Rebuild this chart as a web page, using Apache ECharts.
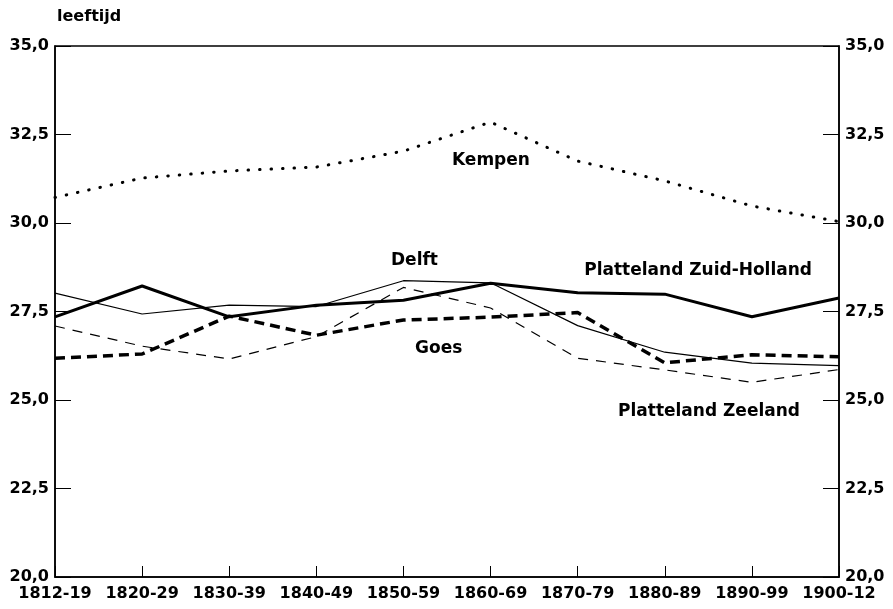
<!DOCTYPE html>
<html><head><meta charset="utf-8">
<script src="https://cdn.jsdelivr.net/npm/echarts@6/dist/echarts.min.js"></script>
<style>html,body{margin:0;padding:0;background:#fff}#c{width:893px;height:609px}</style>
</head><body><div id="c"></div>
<script>
const categories = ['1812-19','1820-29','1830-39','1840-49','1850-59','1860-69','1870-79','1880-89','1890-99','1900-12'];
const kempen = [30.72, 31.27, 31.47, 31.58, 32.03, 32.85, 31.75, 31.19, 30.48, 30.04];
const zuidHolland = [27.35, 28.22, 27.35, 27.68, 27.82, 28.3, 28.03, 27.99, 27.35, 27.88];
const delft = [28.02, 27.43, 27.68, 27.64, 28.37, 28.31, 27.1, 26.35, 26.04, 25.97];
const goes = [26.18, 26.3, 27.37, 26.83, 27.26, 27.34, 27.47, 26.05, 26.28, 26.22];
const zeeland = [27.09, 26.52, 26.16, 26.79, 28.18, 27.6, 26.18, 25.85, 25.5, 25.86];
const yTicks = [20, 22.5, 25, 27.5, 30, 32.5, 35];

const font = '"DejaVu Sans", Verdana, sans-serif';
const fmt = v => v.toFixed(1).replace('.', ',');
const chart = echarts.init(document.getElementById('c'), null, {renderer: 'canvas'});
const yAxisBase = (pos) => ({
  type: 'value', position: pos, min: yTicks[0], max: yTicks[yTicks.length - 1], interval: 2.5,
  axisLine: {show: true, lineStyle: {color: '#000', width: 1.5}},
  axisTick: {show: true, inside: true, length: 16, lineStyle: {color: '#000', width: 1}},
  axisLabel: {formatter: fmt, color: '#000', fontFamily: font, fontWeight: 'bold', fontSize: 16, margin: 6},
  splitLine: {show: false}
});
const txt = (x, y, s, align) => ({type: 'text', x: x, y: y, style: {text: s, fill: '#000', font: 'bold 17px ' + font, textAlign: align || 'left', textVerticalAlign: 'middle'}});
chart.setOption({
  animation: false,
  backgroundColor: '#fff',
  grid: {left: 55, right: 54, top: 46, bottom: 32, show: true, borderColor: '#000', borderWidth: 1.5, backgroundColor: 'transparent'},
  xAxis: {
    type: 'category', data: categories, boundaryGap: false,
    axisLine: {lineStyle: {color: '#000', width: 1.5}},
    axisTick: {show: true, inside: true, length: 11, lineStyle: {color: '#000', width: 1}},
    axisLabel: {color: '#000', fontFamily: font, fontWeight: 'bold', fontSize: 16, margin: 9, interval: 0},
    splitLine: {show: false}
  },
  yAxis: [yAxisBase('left'), yAxisBase('right')],
  graphic: [
    {type: 'text', x: 57, y: 17, style: {text: 'leeftijd', fill: '#000', font: 'bold 16px ' + font, textVerticalAlign: 'middle'}},
    txt(452, 161, 'Kempen'),
    txt(391, 261, 'Delft'),
    txt(415, 349, 'Goes'),
    txt(812, 271, 'Platteland Zuid-Holland', 'right'),
    txt(618, 412, 'Platteland Zeeland')
  ],
  series: [
    {name: 'Kempen', type: 'line', data: kempen, symbol: 'none', lineStyle: {color: '#000', width: 3, type: [0.5, 11], cap: 'round'}},
    {name: 'Platteland Zuid-Holland', type: 'line', data: zuidHolland, symbol: 'none', lineStyle: {color: '#000', width: 3}},
    {name: 'Delft', type: 'line', data: delft, symbol: 'none', lineStyle: {color: '#000', width: 1.2}},
    {name: 'Goes', type: 'line', data: goes, symbol: 'none', lineStyle: {color: '#000', width: 3.5, type: [10, 6]}},
    {name: 'Platteland Zeeland', type: 'line', data: zeeland, symbol: 'none', lineStyle: {color: '#000', width: 1.2, type: [10, 8]}}
  ]
});
</script></body></html>
